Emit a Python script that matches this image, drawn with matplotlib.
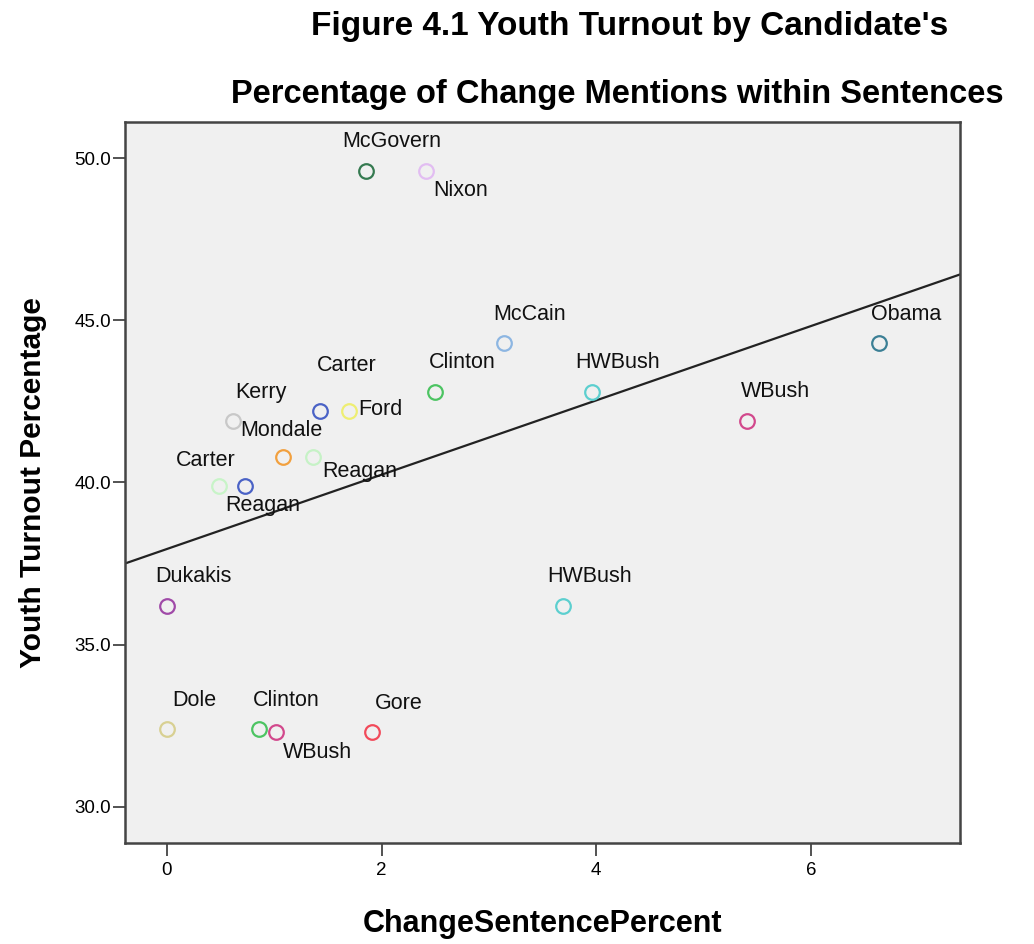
import numpy as np
import matplotlib
matplotlib.use("Agg")
from matplotlib import pyplot as plt

plt.rcParams["font.family"] = ["Liberation Sans", "DejaVu Sans"]

# candidates, change mentions (% of sentences) and youth turnout (%)
candidates = [
    "McGovern", "Nixon", "McCain", "Obama", "Clinton", "HWBush", "Carter",
    "Ford", "WBush", "Kerry", "Mondale", "Reagan", "Carter", "Reagan",
    "Dukakis", "HWBush", "Dole", "Clinton", "WBush", "Gore",
]
change_pct = [
    1.855, 2.41, 3.14, 6.635, 2.50, 3.96, 1.43,
    1.70, 5.41, 0.62, 1.08, 1.36, 0.49, 0.73,
    0.0, 3.69, 0.0, 0.86, 1.02, 1.91,
]
turnout = [
    49.6, 49.6, 44.3, 44.3, 42.8, 42.8, 42.2,
    42.2, 41.9, 41.9, 40.8, 40.8, 39.9, 39.9,
    36.2, 36.2, 32.4, 32.4, 32.3, 32.3,
]

# fit line (intercept, slope)
fit_intercept = 37.95
fit_slope = 1.145

colors = [
    "#357a50", "#e2bdf2", "#8db6e2", "#3b7f95", "#4cc462", "#5ccfcf", "#4a62c6",
    "#eeee72", "#d2488c", "#c8c8c8", "#f2a03e", "#c6f2c6", "#c8f4c8", "#4a62c6",
    "#a04aa8", "#5ccfcf", "#d8d092", "#4cc462", "#d2488c", "#f24a5a",
]

# label offsets in pixels (dx, dy), y up
label_offsets = [
    (26, 29), (35, -20), (26, 28), (27, 28), (27, 29), (26, 29), (26, 46),
    (31, 2), (28, 29), (28, 28), (-1, 26), (47, -15), (-14, 25), (18, -20),
    (27, 29), (27, 29), (27, 29), (27, 29), (41, -20), (27, 29),
]

fig = plt.figure(figsize=(10.34, 9.44), dpi=100)
ax = fig.add_axes([125 / 1034, 1 - 843 / 944, 835 / 1034, 721 / 944])
ax.set_facecolor("#f0f0f0")

xlim = (-0.39, 7.39)
ax.set_xlim(*xlim)
ax.set_ylim(28.89, 51.11)

xx = np.array(xlim)
ax.plot(xx, fit_intercept + fit_slope * xx, color="#222222", lw=1.6, zorder=2)

for name, x, y, c, (dx, dy) in zip(candidates, change_pct, turnout, colors, label_offsets):
    ax.plot(x, y, "o", ms=10.5, mfc="none", mec=c, mew=1.6, zorder=3)
    ax.annotate(name, (x, y), xytext=(dx, dy), textcoords="offset pixels",
                ha="center", va="center", fontsize=15.5, color="#111111", zorder=4)

ax.set_xticks([0, 2, 4, 6])
ax.set_yticks([30, 35, 40, 45, 50])
ax.set_yticklabels([f"{v:.1f}" for v in [30, 35, 40, 45, 50]])
ax.tick_params(labelsize=13.5, length=9, width=1.3, color="#444444", pad=1)
ax.tick_params(axis="x", pad=5)
for s in ax.spines.values():
    s.set_color("#444444")
    s.set_linewidth(1.8)

ax.set_xlabel("ChangeSentencePercent", fontsize=22, fontweight="bold", labelpad=21)
ax.set_ylabel("Youth Turnout Percentage", fontsize=21.5, fontweight="bold", labelpad=20)

fig.text(630 / 1034, 1 - 27 / 944, "Figure 4.1 Youth Turnout by Candidate's",
         ha="center", va="center", fontsize=24, fontweight="bold")
fig.text(617 / 1034, 1 - 94 / 944, "Percentage of Change Mentions within Sentences",
         ha="center", va="center", fontsize=23.5, fontweight="bold")

fig.savefig("out.png", dpi=100, facecolor="white")
